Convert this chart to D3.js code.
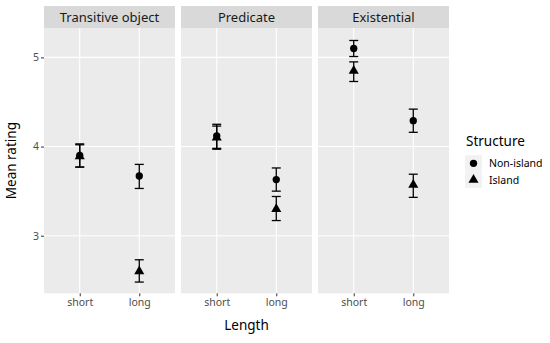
<!DOCTYPE html>
<html>
<head>
<meta charset="utf-8">
<script src="https://cdn.jsdelivr.net/npm/d3@7"></script>
<style>
  body { margin: 0; background: #fff; }
  text { font-family: "Noto Sans", sans-serif; }
</style>
</head>
<body>
<div id="chart"></div>
<script>
// facets, x categories, groups
const panels = ["Transitive object", "Predicate", "Existential"];
const lengths = ["short", "long"];
const structures = ["Non-island", "Island"];

// means per panel: [short, long]
const nonIslandMean = [[3.90, 3.67], [4.12, 3.63], [5.10, 4.29]];
const nonIslandLo   = [[3.77, 3.53], [3.98, 3.50], [5.01, 4.16]];
const nonIslandHi   = [[4.03, 3.80], [4.25, 3.76], [5.19, 4.42]];
const islandMean    = [[3.89, 2.60], [4.10, 3.30], [4.85, 3.57]];
const islandLo      = [[3.77, 2.48], [3.97, 3.17], [4.73, 3.43]];
const islandHi      = [[4.02, 2.73], [4.23, 3.44], [4.95, 3.69]];
const yTicks = [3, 4, 5];

const width = 550, height = 343;
const svg = d3.select("#chart").append("svg")
    .attr("width", width)
    .attr("height", height);

const panelX = [44, 181, 318];
const panelW = 131;
const plotTop = 28, plotBottom = 293.3, stripH = 22;

const y = d3.scaleLinear().domain([2.354, 5.33]).range([plotBottom, plotTop]);

const rows = [];
panels.forEach((p, pi) => {
    lengths.forEach((l, li) => {
        rows.push({panel: pi, len: l, s: "Non-island", m: nonIslandMean[pi][li], lo: nonIslandLo[pi][li], hi: nonIslandHi[pi][li]});
        rows.push({panel: pi, len: l, s: "Island", m: islandMean[pi][li], lo: islandLo[pi][li], hi: islandHi[pi][li]});
    });
});

const sym = d3.scaleOrdinal().domain(structures).range([d3.symbolCircle, d3.symbolTriangle]);
const symSize = d3.scaleOrdinal().domain(structures).range([42, 44]);

panels.forEach((p, pi) => {
    const x = d3.scalePoint().domain(lengths)
        .range([panelX[pi], panelX[pi] + panelW]).padding(0.6);
    const g = svg.append("g");

    // strip
    g.append("rect")
        .attr("x", panelX[pi]).attr("y", plotTop - stripH)
        .attr("width", panelW).attr("height", stripH)
        .attr("fill", "#d9d9d9");
    g.append("text")
        .attr("x", panelX[pi] + panelW / 2).attr("y", plotTop - stripH / 2 + 4.5)
        .attr("text-anchor", "middle")
        .attr("font-size", 13)
        .attr("fill", "#1a1a1a")
        .text(p);

    // panel background
    g.append("rect")
        .attr("x", panelX[pi]).attr("y", plotTop)
        .attr("width", panelW).attr("height", plotBottom - plotTop)
        .attr("fill", "#ebebeb");

    // grid
    g.selectAll(".hg").data(yTicks).enter().append("line")
        .attr("x1", panelX[pi]).attr("x2", panelX[pi] + panelW)
        .attr("y1", d => y(d)).attr("y2", d => y(d))
        .attr("stroke", "#fff").attr("stroke-width", 1.1);
    g.selectAll(".vg").data(lengths).enter().append("line")
        .attr("x1", d => x(d)).attr("x2", d => x(d))
        .attr("y1", plotTop).attr("y2", plotBottom)
        .attr("stroke", "#fff").attr("stroke-width", 1.1);

    // x axis
    const xa = g.append("g")
        .attr("transform", `translate(0,${plotBottom})`)
        .call(d3.axisBottom(x).tickSize(3).tickPadding(2));
    xa.select(".domain").remove();
    xa.selectAll("line").attr("stroke", "#333");
    xa.selectAll("text").attr("font-family", "Noto Sans").attr("font-size", 10.5).attr("fill", "#4d4d4d");

    // error bars + points
    const pr = rows.filter(r => r.panel === pi);
    const eb = g.selectAll(".eb").data(pr).enter().append("g");
    eb.append("line")
        .attr("x1", d => x(d.len)).attr("x2", d => x(d.len))
        .attr("y1", d => y(d.lo)).attr("y2", d => y(d.hi))
        .attr("stroke", "#000").attr("stroke-width", 1.3);
    eb.append("line")
        .attr("x1", d => x(d.len) - 4.5).attr("x2", d => x(d.len) + 4.5)
        .attr("y1", d => y(d.lo)).attr("y2", d => y(d.lo))
        .attr("stroke", "#000").attr("stroke-width", 1.3);
    eb.append("line")
        .attr("x1", d => x(d.len) - 4.5).attr("x2", d => x(d.len) + 4.5)
        .attr("y1", d => y(d.hi)).attr("y2", d => y(d.hi))
        .attr("stroke", "#000").attr("stroke-width", 1.3);
    g.selectAll(".pt").data(pr).enter().append("path")
        .attr("d", d => d3.symbol(sym(d.s), symSize(d.s))())
        .attr("transform", d => `translate(${x(d.len)},${y(d.m)})`)
        .attr("fill", "#000");
});

// y axis
const ya = svg.append("g")
    .attr("transform", `translate(${panelX[0]},0)`)
    .call(d3.axisLeft(y).tickValues(yTicks).tickFormat(d3.format("d")).tickSize(3).tickPadding(2));
ya.select(".domain").remove();
ya.selectAll("line").attr("stroke", "#333");
ya.selectAll("text").attr("font-family", "Noto Sans").attr("font-size", 10.5).attr("fill", "#4d4d4d");

// axis titles
svg.append("text")
    .attr("x", (panelX[0] + panelX[2] + panelW) / 2).attr("y", 330)
    .attr("text-anchor", "middle").attr("font-size", 13.5).attr("fill", "#000")
    .text("Length");
svg.append("text")
    .attr("transform", `translate(16,${(plotTop + plotBottom) / 2}) rotate(-90)`)
    .attr("text-anchor", "middle").attr("font-size", 13.5).attr("fill", "#000")
    .text("Mean rating");

// legend
const lg = svg.append("g").attr("transform", "translate(465,0)");
lg.append("text").attr("x", 1).attr("y", 146)
    .attr("font-size", 13.5).attr("fill", "#000").text("Structure");
const li = lg.selectAll(".li").data(structures).enter().append("g")
    .attr("transform", (d, i) => `translate(0,${155 + i * 16.5})`);
li.append("rect").attr("width", 17).attr("height", 16.5).attr("fill", "#f2f2f2");
li.append("path")
    .attr("d", d => d3.symbol(sym(d), symSize(d))())
    .attr("transform", "translate(8.5,8.3)")
    .attr("fill", "#000");
li.append("text").attr("x", 24).attr("y", 12.3)
    .attr("font-size", 10.5).attr("fill", "#000").text(d => d);
</script>
</body>
</html>
